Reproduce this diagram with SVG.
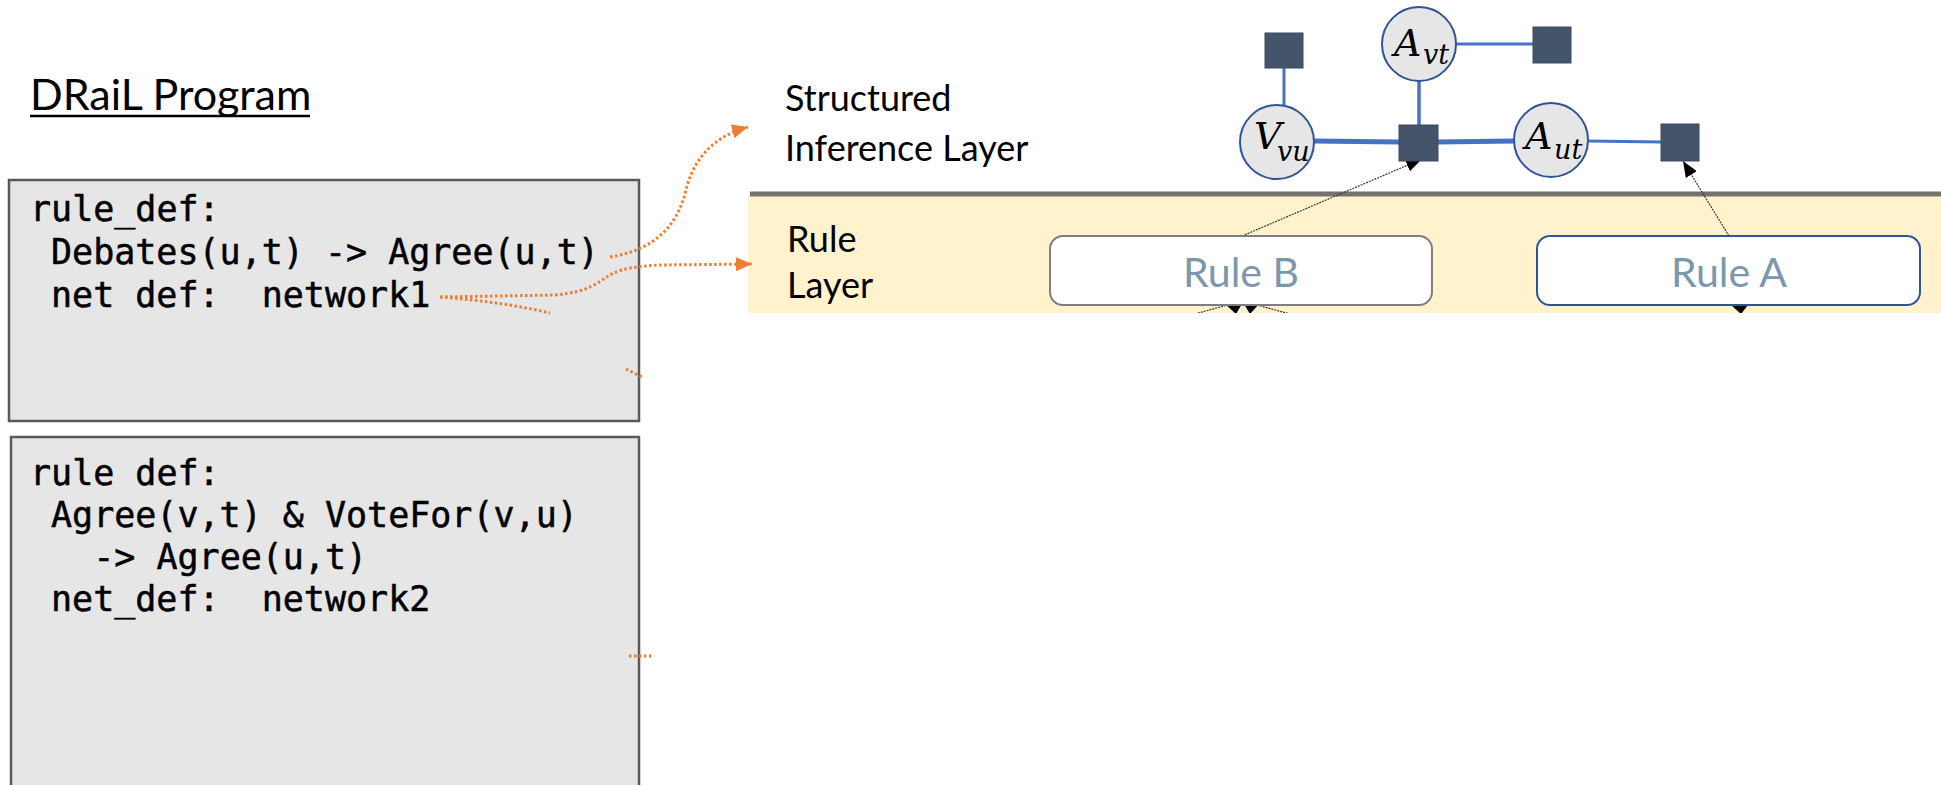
<svg xmlns="http://www.w3.org/2000/svg" width="1941" height="785" viewBox="0 0 1941 785">
  <style>
    .title { font-family: Lato, "Open Sans", sans-serif; font-size: 43px; fill: #000; }
    .code { font-family: "DejaVu Sans Mono", "Liberation Mono", monospace; font-size: 35px; fill: #000; stroke: #000; stroke-width: 0.5; white-space: pre; }
    .codebox { fill: #e7e6e6; stroke: #595959; stroke-width: 2.5; }
    .layer { font-family: Lato, "Open Sans", sans-serif; font-size: 36px; fill: #000; }
    .rulebox { fill: #ffffff; stroke-width: 2; }
    .ruletxt { font-family: Lato, "Open Sans", sans-serif; font-size: 41px; fill: #7a98ad; text-anchor: middle; }
    .var { fill: #e7e6e6; stroke: #2f5597; stroke-width: 2; }
    .factor { fill: #44546a; stroke: #3b4a5f; stroke-width: 1; }
    .math { font-family: "DejaVu Serif", "Liberation Serif", serif; font-style: italic; font-size: 38px; fill: #000; }
    .sub { font-size: 27px; }
    .edge { stroke: #4472c4; fill: none; }
    .orange { stroke: #ed7d31; stroke-width: 3; stroke-dasharray: 2.5 2.5; fill: none; }
    .link { stroke: #3a3a3a; stroke-width: 1.2; stroke-dasharray: 2 1; fill: none; }
  </style>
  <defs>
    <marker id="orangeHead" viewBox="0 0 16 14" refX="16" refY="7" markerWidth="16" markerHeight="14" markerUnits="userSpaceOnUse" orient="auto">
      <path d="M0,0 L16,7 L0,14 Z" fill="#ed7d31"/>
    </marker>
    <marker id="blackHead" viewBox="0 0 16 13" refX="16" refY="6.5" markerWidth="16" markerHeight="13" markerUnits="userSpaceOnUse" orient="auto">
      <path d="M0,0 L16,6.5 L0,13 Z" fill="#000"/>
    </marker>
    <clipPath id="bandClip">
      <rect x="748" y="195" width="1193" height="118"/>
    </clipPath>
  </defs>

  <rect width="1941" height="785" fill="#ffffff"/>

  <!-- program title -->
  <g id="title">
    <text class="title" x="30" y="110">DRaiL Program</text>
    <line x1="30" y1="116" x2="310" y2="116" stroke="#000" stroke-width="2.5"/>
  </g>

  <!-- rule definitions -->
  <g id="rule1">
    <rect class="codebox" x="9" y="180" width="630" height="241"/>
    <text class="code" x="30" y="221" xml:space="preserve">rule_def:</text>
    <text class="code" x="51" y="264" xml:space="preserve">Debates(u,t) -&gt; Agree(u,t)</text>
    <text class="code" x="51" y="307" xml:space="preserve">net def:  network1</text>
  </g>
  <g id="rule2">
    <rect class="codebox" x="11" y="437" width="628" height="370"/>
    <text class="code" x="30" y="485" xml:space="preserve">rule def:</text>
    <text class="code" x="51" y="527" xml:space="preserve">Agree(v,t) &amp; VoteFor(v,u)</text>
    <text class="code" x="30" y="569" xml:space="preserve">   -&gt; Agree(u,t)</text>
    <text class="code" x="51" y="611" xml:space="preserve">net_def:  network2</text>
  </g>

  <!-- layers -->
  <g id="inference-layer">
    <text class="layer" x="785" y="111">Structured</text>
    <text class="layer" x="785" y="161">Inference Layer</text>
  </g>
  <g id="rule-layer">
    <rect x="748" y="195" width="1193" height="118" fill="#fff2cc"/>
    <line x1="750" y1="194" x2="1941" y2="194" stroke="#767171" stroke-width="5"/>
    <text class="layer" x="787" y="252">Rule</text>
    <text class="layer" x="787" y="298">Layer</text>
  </g>

  <!-- connectors -->
  <g id="connectors">
    <!-- program to layers -->
    <path class="orange" d="M610,257 C655,250 678,225 686,190 C692,165 708,138 748,127" marker-end="url(#orangeHead)"/>
    <path class="orange" d="M440,297 L555,295 C590,292 598,282 610,275 C622,268 640,266 660,265 L752,264" marker-end="url(#orangeHead)"/>
    <path class="orange" d="M440,297 C480,300 515,305 550,313"/>
    <path class="orange" d="M626,369 L642,377"/>
    <path class="orange" d="M629,656 L652,656"/>

    <!-- factor graph edges -->
    <line class="edge" x1="1284" y1="68" x2="1284" y2="105" stroke-width="3"/>
    <line class="edge" x1="1314" y1="141" x2="1400" y2="142" stroke-width="5"/>
    <line class="edge" x1="1437" y1="142" x2="1514" y2="141" stroke-width="5"/>
    <line class="edge" x1="1419" y1="81" x2="1419" y2="126" stroke-width="3.5"/>
    <line class="edge" x1="1456" y1="44" x2="1533" y2="44" stroke-width="3"/>
    <line class="edge" x1="1588" y1="141" x2="1662" y2="142" stroke-width="3"/>

    <!-- rules to factors -->
    <line class="link" x1="1242" y1="236" x2="1422" y2="159" marker-end="url(#blackHead)"/>
    <line class="link" x1="1729" y1="236" x2="1683" y2="161" marker-end="url(#blackHead)"/>

    <!-- incoming arrows below the rules -->
    <g clip-path="url(#bandClip)">
      <line class="link" x1="1195" y1="314" x2="1227" y2="305"/>
      <line class="link" x1="1257" y1="305" x2="1290" y2="314"/>
      <polygon points="1224,303 1242,304 1236,314" fill="#000"/>
      <polygon points="1244,304 1260,303 1250,314" fill="#000"/>
      <polygon points="1731,305 1748,305 1741,314" fill="#000"/>
    </g>
  </g>

  <!-- rule nodes -->
  <g id="rule-b">
    <rect class="rulebox" x="1050" y="236" width="382" height="69" rx="13" stroke="#7f7f7f"/>
    <text class="ruletxt" x="1241" y="287">Rule B</text>
  </g>
  <g id="rule-a">
    <rect class="rulebox" x="1537" y="236" width="383" height="69" rx="13" stroke="#2f5597"/>
    <text class="ruletxt" x="1729" y="287">Rule A</text>
  </g>

  <!-- factor graph nodes -->
  <g id="factor-vu">
    <rect class="factor" x="1265" y="33" width="38" height="35"/>
  </g>
  <g id="factor-vt">
    <rect class="factor" x="1533" y="27" width="38" height="36"/>
  </g>
  <g id="factor-b">
    <rect class="factor" x="1399" y="125" width="39" height="36"/>
  </g>
  <g id="factor-a">
    <rect class="factor" x="1661" y="124" width="38" height="37"/>
  </g>
  <g id="var-vvu">
    <circle class="var" cx="1277" cy="142" r="37"/>
    <text class="math" x="1254" y="149">V<tspan class="sub" x="1277" y="161">vu</tspan></text>
  </g>
  <g id="var-avt">
    <circle class="var" cx="1419" cy="44" r="37"/>
    <text class="math" x="1394" y="56">A<tspan class="sub" x="1423" y="64">vt</tspan></text>
  </g>
  <g id="var-aut">
    <circle class="var" cx="1551" cy="140" r="37"/>
    <text class="math" x="1525" y="149">A<tspan class="sub" x="1554" y="159">ut</tspan></text>
  </g>
</svg>
